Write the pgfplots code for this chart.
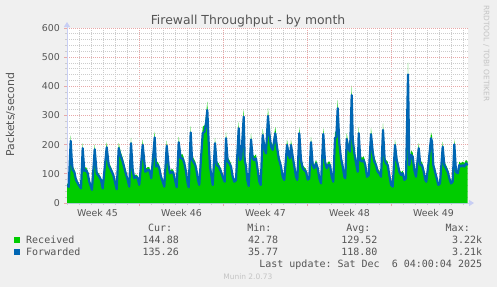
\documentclass[border=0pt]{standalone}
\usepackage{fontspec}
\setmainfont{DejaVu Sans}
\newfontfamily\monofont{DejaVu Sans Mono}
\usepackage{pgfplots}
\pgfplotsset{compat=1.18}
\usepackage{pgfplotstable}
\usetikzlibrary{arrows.meta}
\frenchspacing

\definecolor{bg}{HTML}{F0F0F0}
\definecolor{rgreen}{HTML}{00CC00}
\definecolor{fblue}{HTML}{0066B3}
\definecolor{txt}{HTML}{555555}
\definecolor{axcol}{HTML}{C8CEF4}
\definecolor{mgridc}{HTML}{E8A8A8}
\definecolor{gridc}{HTML}{CCCCCC}
\definecolor{faint}{HTML}{C4C4C4}

% hours since start, Forwarded, Received (packets/second)
\pgfplotstableread{
h F R
0 62 68
3.4 55 60
7.4 213 232
9.4 150 164
11.4 113 123
14.6 107 117
18 79 86
23.4 62 68
28 50 55
31.4 188 205
34.6 110 120
38 113 123
41.4 102 111
44.6 73 80
50 45 49
55.4 184 201
59.4 102 111
64.6 90 98
68 79 86
71.4 50 55
79.4 191 208
83.4 130 142
88 113 123
92.6 96 105
96.6 67 73
99.4 47 51
103.4 188 205
106.6 165 180
111.4 142 155
116.6 107 117
121.4 79 86
124.6 56 61
128 205 223
131.4 113 123
134.6 85 93
138 90 98
141.4 85 93
144.6 62 68
151.4 199 217
156.6 107 117
161.4 113 123
164.6 113 123
168.6 85 93
175.4 225 245
178 125 136
181.4 130 142
184.6 119 130
188 90 98
191.4 73 80
194.6 56 61
199.4 196 214
203.4 125 136
206 102 111
210 107 117
212.6 104 113
216 79 86
219.4 54 59
223.4 208 227
227.4 153 167
231.4 153 167
234.6 136 148
238 107 117
241.4 67 73
243.4 54 59
247.4 242 264
250 150 164
252.6 142 155
256.6 130 142
259.4 107 117
262 79 86
264.6 62 68
268 153 167
271.4 239 261
275.4 245 267
278 273 298
280.6 319 348
283.4 205 223
286 125 136
291.4 62 68
296 205 223
299.4 130 142
303.4 125 136
308 107 117
311.4 90 98
315.4 73 80
318 222 242
321.4 142 155
324.6 136 148
328 125 136
331.4 90 98
334.6 73 80
338 79 86
343.4 256 279
346 147 160
348.6 153 167
353.4 296 323
355.4 147 160
358 125 136
360.6 79 86
363.4 58 63
368 218 238
371.4 153 167
374.6 147 160
378 153 167
381.4 113 123
384.6 73 80
387.4 62 68
391.4 233 254
395.4 182 198
398 170 185
402 298 325
404.6 239 261
408 193 210
411.4 182 198
416.6 239 261
419.4 199 217
423.4 153 167
428 125 136
431.4 90 98
434.6 79 86
440 199 217
443.4 165 180
446 153 167
448 199 217
451.4 159 173
454.6 125 136
458 90 98
460.6 79 86
464.6 239 261
468 147 160
471.4 119 130
474.6 113 123
478 107 117
481.4 80 87
484.6 85 93
488 208 227
491.4 130 142
494.6 119 130
498 136 148
501.4 119 130
504.6 85 93
508 67 73
512.6 237 258
516 142 155
519.4 119 130
522.6 130 142
526 130 142
529.4 90 98
532.6 73 80
536 222 242
538.6 227 247
541.4 325 354
544.6 205 223
548 153 167
551.4 125 136
554.6 90 98
556.6 85 93
559.4 219 239
562.6 188 205
566 176 192
569.4 370 403
571.4 222 242
574.6 170 185
578 136 148
581.4 107 117
583.4 239 261
586.6 147 160
590 142 155
593.4 147 160
596.6 130 142
600 90 98
603.4 96 105
608 236 257
611.4 176 192
614.6 142 155
618 130 142
621.4 107 117
624.6 102 111
628 90 98
632 250 273
635.4 147 160
638 136 148
641.4 130 142
644.6 96 105
648 62 68
651.4 56 61
656 199 217
659.4 147 160
662 130 142
664.6 107 117
668 96 105
671.4 102 111
674.6 79 86
678 85 93
682 441 481
684.6 130 142
688 165 180
691.4 159 173
694.6 113 123
698 90 98
703.4 188 205
706.6 130 142
710 130 142
713.4 107 117
716.6 79 86
718.6 73 80
723.4 142 155
728 222 242
730 210 229
732.6 130 142
736 107 117
739.4 85 93
742.6 62 68
746 67 73
751.4 193 210
754.6 130 142
758 119 130
761.4 107 117
764.6 85 93
768 67 73
771.4 73 80
774.6 201 219
778 107 117
781.4 102 111
784.6 130 142
788 125 136
791.4 130 142
794.6 125 136
798 136 148
801.4 130 142
}\fwdata

\begin{document}
\begin{tikzpicture}[x=1bp,y=1bp]
\fill[bg] (0,0) rectangle (497,287);
\useasboundingbox (0,0) rectangle (497,287);
\begin{axis}[
  at={(67bp,84bp)}, anchor=south west,
  scale only axis, width=401bp, height=175bp,
  xmin=0, xmax=802, ymin=0, ymax=600,
  axis background/.style={fill=white},
  axis x line=bottom, axis y line=left,
  axis line style={draw=axcol, line width=1bp},
  x axis line style={-{Triangle[length=5bp,width=6bp]}, shorten >=-6bp},
  y axis line style={-{Triangle[length=5bp,width=6bp]}, shorten >=-6bp},
  xtick={145,313,481,649}, xticklabels={,,,},
  minor xtick={1,25,...,793},
  extra x ticks={61,229,397,565,733},
  extra x tick labels={Week 45,Week 46,Week 47,Week 48,Week 49},
  extra x tick style={grid=none, major tick length=0pt},
  ytick={0,100,...,600}, minor y tick num=4,
  tick align=outside, major tick length=3bp, minor tick length=2bp,
  major tick style={draw=mgridc, line width=1bp},
  minor tick style={draw=gridc, line width=1bp},
  grid=both,
  major grid style={draw=mgridc, line width=0.8bp, dash pattern=on 1bp off 1bp},
  minor grid style={draw=gridc, line width=0.8bp, dash pattern=on 1bp off 1bp},
  tick label style={font=\fontsize{9.4bp}{11bp}\selectfont, text=txt},
  /pgf/number format/assume math mode=true,
  yticklabel style={anchor=east, inner sep=0pt, xshift=-4bp},
  xticklabel style={anchor=base, inner sep=0pt, yshift=-13.5bp},
]
\addplot[fill=rgreen, draw=none] table[x=h, y=R] {\fwdata} \closedcycle;
\addplot[fblue, line width=2.2bp, line join=round] table[x=h, y=F] {\fwdata};
\end{axis}

\node[text=txt, font=\fontsize{12.4bp}{14bp}\selectfont, inner sep=0pt] at (248,266.2) {Firewall Throughput - by month};
\node[text=txt, font=\fontsize{10.9bp}{12bp}\selectfont, rotate=90, inner sep=0pt] at (10.5,172.5) {Packets/second};
\node[text=faint, font=\fontsize{7.5bp}{9bp}\selectfont, rotate=-90, anchor=mid west, inner sep=0pt] at (486.5,282) {RRDTOOL / TOBI OETIKER};

\begin{scope}[every node/.style={text=txt, font=\monofont\fontsize{10bp}{12bp}\selectfont, inner sep=0pt}]
\node[anchor=base east] at (172.3,56) {Cur:};
\node[anchor=base east] at (271.7,56) {Min:};
\node[anchor=base east] at (370.7,56) {Avg:};
\node[anchor=base east] at (470,56) {Max:};
\fill[rgreen] (14,44.3) rectangle (20,50.3);
\node[anchor=base west] at (26,44) {Received};
\node[anchor=base east] at (179,44) {144.88};
\node[anchor=base east] at (278.3,44) {42.78};
\node[anchor=base east] at (377.7,44) {129.52};
\node[anchor=base east] at (482.3,44) {3.22k};
\fill[fblue] (14,32) rectangle (20,38);
\node[anchor=base west] at (26,31.7) {Forwarded};
\node[anchor=base east] at (179,31.7) {135.26};
\node[anchor=base east] at (278.3,31.7) {35.77};
\node[anchor=base east] at (377.7,31.7) {118.80};
\node[anchor=base east] at (482.3,31.7) {3.21k};
\node[anchor=base east] at (482.3,20) {Last update: Sat Dec\ \ 6 04:00:04 2025};
\end{scope}
\node[text=faint, font=\fontsize{7.5bp}{9bp}\selectfont, inner sep=0pt, anchor=base] at (247.8,8) {Munin 2.0.73};
\end{tikzpicture}
\end{document}
